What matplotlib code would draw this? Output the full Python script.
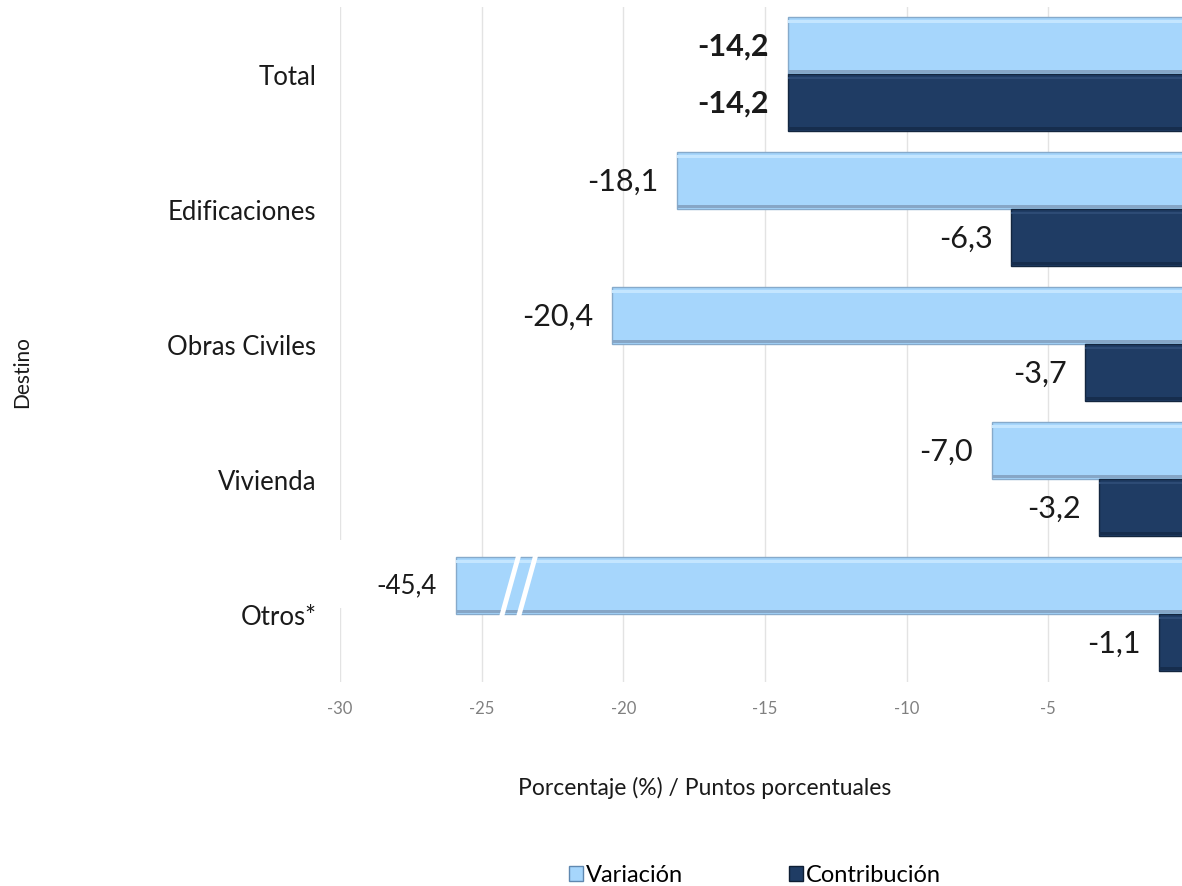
import matplotlib.pyplot as plt
import matplotlib.patches as mpatches
import numpy as np

categorias = ['Total', 'Edificaciones', 'Obras Civiles', 'Vivienda', 'Otros*']
variacion = [-14.2, -18.1, -20.4, -7.0, -45.4]
contribucion = [-14.2, -6.3, -3.7, -3.2, -1.1]
ticks = [-30, -25, -20, -15, -10, -5]
tick_labels = ['-30', '-25', '-20', '-15', '-10', '-5']

CLARO = '#A6D6FC'
OSCURO = '#1F3C64'
CORTE = -25.9   # donde se corta la barra de Otros

plt.rcParams['font.family'] = ['Lato', 'DejaVu Sans']

fig = plt.figure(figsize=(11.82, 8.87), dpi=100)
ax = fig.add_axes([340 / 1182, 1 - 682.5 / 887, 1 - 340 / 1182, 675 / 887])

y = np.arange(len(categorias))
h = 0.425
var_plot = [max(v, CORTE) for v in variacion]

ax.barh(y - h / 2, var_plot, height=h, color=CLARO, edgecolor='#86AACB', linewidth=1.0, zorder=3)
ax.barh(y + h / 2, contribucion, height=h, color=OSCURO, edgecolor='#13263F', linewidth=1.0, zorder=3)
# bisel: brillo arriba, sombra abajo
ax.barh(y - h + 0.035, var_plot, height=0.022, color='#C4E6FF', linewidth=0, zorder=4)
ax.barh(y - 0.018, var_plot, height=0.022, color='#86A6C6', linewidth=0, zorder=4)
ax.barh(y + 0.03, contribucion, height=0.02, color='#2D4B75', linewidth=0, zorder=4)
ax.barh(y + h - 0.018, contribucion, height=0.022, color='#162D4D', linewidth=0, zorder=4)

ax.set_xlim(-30, -0.28)
ax.set_ylim(len(categorias) - 0.5, -0.5)
ax.set_xticks(ticks)
ax.set_xticklabels(tick_labels)
ax.set_yticks(y)
ax.set_yticklabels(categorias)
ax.tick_params(axis='x', length=0, labelsize=12, labelcolor='#808080', pad=13)
ax.tick_params(axis='y', length=0, labelsize=18.5, labelcolor='#1A1A1A', pad=17)
for s in ax.spines.values():
    s.set_visible(False)
ax.grid(axis='x', color='#E3E3E3', linewidth=1, zorder=0)
ax.set_axisbelow(True)

def fmt(v):
    return '{:.1f}'.format(v).replace('.', ',')

for i in range(len(categorias)):
    bold = 'bold' if i == 0 else 'normal'
    if variacion[i] < CORTE:
        # caja blanca detras de la etiqueta de la barra cortada
        ax.add_patch(mpatches.Rectangle((-30.3, i - h - 0.12), 30.3 + CORTE, 0.5,
                                        facecolor='white', edgecolor='none', zorder=2))
        ax.text(CORTE - 0.7, i - h / 2, fmt(variacion[i]), ha='right', va='center',
                fontsize=18.5, color='#1A1A1A', zorder=5)
        # marcas de corte
        for dx in (0, 0.6):
            x0 = CORTE + 1.55 + dx
            ax.plot([x0, x0 + 0.75], [i + 0.06, i - h - 0.08], color='white',
                    linewidth=3.5, zorder=6, solid_capstyle='butt')
    else:
        ax.text(var_plot[i] - 0.65, i - h / 2, fmt(variacion[i]), ha='right', va='center',
                fontsize=22, fontweight=bold, color='#1A1A1A', zorder=5)
    ax.text(contribucion[i] - 0.65, i + h / 2, fmt(contribucion[i]), ha='right', va='center',
            fontsize=22, fontweight=bold, color='#1A1A1A', zorder=5)

fig.text(705 / 1182, 1 - 788 / 887, 'Porcentaje (%) / Puntos porcentuales',
         ha='center', va='center', fontsize=16.5, color='#1A1A1A')
fig.text(22 / 1182, 1 - 372 / 887, 'Destino', rotation=90,
         ha='center', va='center', fontsize=15, color='#1A1A1A')

handles = [mpatches.Patch(facecolor=CLARO, edgecolor='#5F88B0', label='Variación'),
           mpatches.Patch(facecolor=OSCURO, edgecolor='#0E1E33', label='Contribución')]
fig.legend(handles=handles, loc='center', bbox_to_anchor=(755 / 1182, 1 - 876 / 887),
           ncol=2, frameon=False, fontsize=17, handlelength=0.6, handleheight=0.6,
           handletextpad=0.12, columnspacing=4.5)

fig.savefig('out.png', dpi=100)
